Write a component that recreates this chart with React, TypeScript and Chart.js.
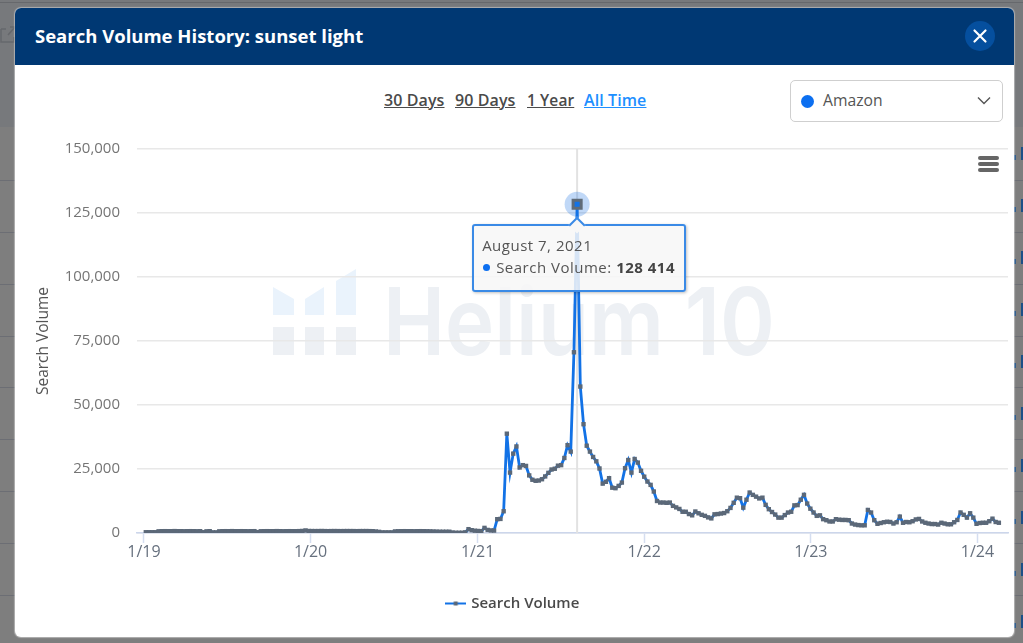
import React, { useEffect, useRef } from "react";
import { Chart, registerables } from "chart.js";

Chart.register(...registerables);

const title = "Search Volume History: sunset light";
const rangeLinks = ["30 Days", "90 Days", "1 Year", "All Time"];
const marketplace = "Amazon";
const seriesName = "Search Volume";

// Axis ticks: days since 1 Jan 2019
const yearTickDays = [0, 365, 731, 1096, 1461, 1826];
const yearTickLabels = ["1/19", "1/20", "1/21", "1/22", "1/23", "1/24"];
const firstWeekDay = 4; // weekly samples, Saturday 5 Jan 2019 onwards
const peakIndex = 135;

const volumes2019 = [
  300, 300, 300, 300, 650, 700, 720, 700, 700,
  750, 700, 700, 680, 700, 720, 700, 680, 700, 300,
  650, 700, 250, 250, 650, 700, 720, 700, 740, 700,
  700, 720, 700, 680, 700, 720, 350, 680, 700, 720,
  700, 700, 740, 700, 680, 700, 720, 700, 700, 740,
  800, 1000,
];
const volumes2020 = [
  780, 760, 750, 750, 780, 750, 720, 750, 760, 750,
  730, 750, 760, 750, 750, 720, 750, 750, 760, 730,
  700, 600, 450, 250, 250, 250, 250, 620, 680, 700,
  720, 700, 700, 680, 700, 720, 700, 680, 650, 600,
  550, 500, 500, 500, 500, 200, 100, 100, 100, 250,
  1500, 1100, 900,
];
const volumes2021 = [
  800, 700, 2000, 1200, 1000, 950, 5400, 5500, 8500, 38800,
  23600, 31000, 33800, 25600, 26500, 26200, 22500, 20800, 20400, 20500,
  21000, 22100, 23500, 24800, 25100, 26300, 26500, 29300, 34300, 31800,
  70600, 128414, 57200, 42500, 34100, 31800, 29700, 28000, 25200, 19300,
  20000, 21400, 17700, 17500, 18400, 19700, 25300, 28500, 23600, 28900,
  27500, 24300,
];
const volumes2022 = [
  22000, 20100, 18800, 16200, 12500, 11900, 11900, 11800, 11900, 10600,
  10000, 9400, 8300, 8300, 7400, 6900, 8400, 7700, 7100, 6700,
  6100, 5700, 7300, 7400, 7600, 7800, 8500, 9800, 11800, 13800,
  13600, 9900, 13000, 15800, 14900, 14200, 13500, 13800, 11000, 9300,
  8200, 7200, 6000, 6000, 7000, 8000, 8300, 10800, 10900, 13000,
  14900, 11500, 9500,
];
const volumes2023 = [
  8000, 6700, 6900, 5400, 5000, 4500, 4500, 5400, 5200, 5100,
  5100, 5000, 3700, 3300, 3100, 3000, 3000, 9000, 8000, 5000,
  3600, 3900, 4200, 4400, 4300, 3700, 4200, 6400, 4000, 4300,
  4200, 4600, 5300, 5500, 4500, 4000, 3700, 3500, 3500, 3300,
  4000, 3700, 3400, 3400, 4200, 5100, 8000, 7100, 6000, 7700,
  6000, 3600, 3900, 4000, 4000, 4600, 5600, 4300, 4000,
];
const volumes = [...volumes2019, ...volumes2020, ...volumes2021, ...volumes2022, ...volumes2023];
const weekDays = volumes.map((_, i) => firstWeekDay + i * 7);
const rowLines = [180, 232, 284, 336, 387, 439, 491, 543, 595];
const rowFragments = [153, 205, 257, 309, 361, 413, 465, 517, 569, 621];

const LINE = "#1272e6";
const MARK = "#5b6878";
const UI_FONT = '"Open Sans", sans-serif';

function dayLabel(day: number) {
  const d = new Date(Date.UTC(2019, 0, 1 + day));
  return d.toLocaleDateString("en-US", { month: "long", day: "numeric", year: "numeric", timeZone: "UTC" });
}

const focusPlugin = {
  id: "focusMarks",
  beforeDatasetsDraw(chart: any) {
    const active = chart.getActiveElements()[0];
    if (!active) return;
    const { ctx, chartArea } = chart;
    const el = active.element;
    ctx.save();
    ctx.strokeStyle = "#e2e2e2";
    ctx.lineWidth = 2;
    ctx.beginPath();
    ctx.moveTo(el.x, chartArea.top);
    ctx.lineTo(el.x, chartArea.bottom);
    ctx.stroke();
    ctx.fillStyle = "rgba(24,110,224,0.27)";
    ctx.beginPath();
    ctx.arc(el.x, el.y, 12.5, 0, Math.PI * 2);
    ctx.fill();
    ctx.restore();
  },
};

function legendMark() {
  const c = document.createElement("canvas");
  c.width = 21;
  c.height = 6;
  const g = c.getContext("2d")!;
  g.fillStyle = LINE;
  g.fillRect(0, 2, 21, 2);
  g.fillStyle = MARK;
  g.fillRect(8.5, 1, 4, 4);
  return c;
}

export default function App() {
  const canvasRef = useRef<HTMLCanvasElement>(null);
  const tipRef = useRef<HTMLDivElement>(null);

  useEffect(() => {
    const chart = new Chart(canvasRef.current!, {
      type: "line",
      data: {
        labels: weekDays,
        datasets: [
          {
            label: seriesName,
            data: weekDays.map((x, i) => ({ x, y: volumes[i] })),
            borderColor: LINE,
            borderWidth: 2.8,
            tension: 0,
            pointStyle: "rect",
            pointRadius: 3.1,
            pointBorderWidth: 0,
            pointBackgroundColor: MARK,
            pointHoverRadius: 5.7,
            pointHoverBorderWidth: 3,
            pointHoverBackgroundColor: LINE,
            pointHoverBorderColor: "#5f6b78",
          },
        ],
      },
      options: {
        animation: false,
        responsive: false,
        events: [],
        layout: { padding: { top: 84, right: 6, left: 4, bottom: 16 } },
        scales: {
          x: {
            type: "linear",
            min: -15.3,
            max: 1893,
            afterFit(s: any) {
              s.height = 53;
            },
            afterBuildTicks(s: any) {
              s.ticks = yearTickDays.map((value) => ({ value }));
            },
            grid: { drawOnChartArea: false, drawTicks: true, tickLength: 10, tickColor: "#d5def0", tickWidth: 1.5 },
            border: { color: "#ccd6eb", width: 1.5 },
            ticks: {
              autoSkip: false,
              maxRotation: 0,
              padding: 0,
              color: "#66707e",
              font: { family: UI_FONT, size: 16 },
              callback: (_v: any, i: number) => yearTickLabels[i],
            },
          },
          y: {
            min: 0,
            max: 150000,
            afterFit(s: any) {
              s.width = 118;
            },
            title: {
              display: true,
              text: seriesName,
              color: "#555",
              font: { family: UI_FONT, size: 15.5 },
              padding: { top: 15, bottom: 0 },
            },
            grid: { color: "#e8e8e8", lineWidth: 1.5, drawTicks: false },
            border: { display: false },
            ticks: {
              stepSize: 25000,
              padding: 17,
              color: "#757575",
              font: { family: UI_FONT, size: 15 },
              callback: (v: any) => Number(v).toLocaleString("en-US"),
            },
          },
        },
        plugins: {
          legend: {
            position: "bottom",
            labels: {
              usePointStyle: true,
              pointStyle: legendMark(),
              pointStyleWidth: 16,
              padding: 10,
              color: "#4a4a4a",
              font: { family: UI_FONT, size: 15, weight: "600" },
            },
          },
          tooltip: {
            enabled: false,
            external({ tooltip }: any) {
              const el = tipRef.current;
              if (!el || !tooltip.dataPoints?.length) return;
              const p = tooltip.dataPoints[0];
              el.style.display = "block";
              el.style.left = `${15 + tooltip.caretX - 105}px`;
              el.style.top = `${65 + tooltip.caretY + 20}px`;
              el.querySelector("[data-d]")!.textContent = dayLabel(p.parsed.x);
              el.querySelector("[data-n]")!.textContent = `${p.dataset.label}: `;
              el.querySelector("[data-v]")!.textContent = String(p.parsed.y).replace(/\B(?=(\d{3})+$)/g, " ");
            },
          },
        },
      } as any,
      plugins: [focusPlugin],
    } as any);

    const active = [{ datasetIndex: 0, index: peakIndex }];
    chart.setActiveElements(active);
    chart.tooltip!.setActiveElements(active, { x: 0, y: 0 });
    chart.update();
    return () => chart.destroy();
  }, []);

  const abs = (s: React.CSSProperties): React.CSSProperties => ({ position: "absolute", ...s });

  return (
    <div style={{ position: "fixed", left: 0, top: 0, width: 1023, height: 643, overflow: "hidden", background: "#7e7e7e", fontFamily: UI_FONT }}>
      <div style={abs({ left: 0, top: 0, width: 1023, height: 127, background: "#77797c" })} />
      <div style={abs({ left: 0, top: 2, width: 1023, height: 1, background: "#66686c" })} />
      {rowLines.map((y) => (
        <div key={y} style={abs({ left: 0, top: y, width: 1023, height: 1, background: "#6c6e74" })} />
      ))}
      {rowFragments.map((y) => (
        <React.Fragment key={y}>
          <div style={abs({ left: 1021, top: y - 6, width: 2, height: 13, background: "#1c4f87" })} />
          <div style={abs({ left: 1014, top: y + 2, width: 2, height: 5, background: "#2d5a8a" })} />
        </React.Fragment>
      ))}
      <svg style={abs({ left: 0, top: 24, width: 15, height: 20 })} viewBox="0 0 15 20">
        <path d="M1 5H6M1 5V18H14V13M8 11L15 3M10 3H15" fill="none" stroke="#66686c" strokeWidth="1.5" />
      </svg>

      {/* Modal */}
      <div style={abs({ left: 15, top: 8, width: 999, height: 629, background: "#fff", borderRadius: 6, overflow: "hidden", boxShadow: "0 0 1px 1px rgba(255,255,255,0.4)" })}>
        <div style={abs({ left: 0, top: 0, width: 999, height: 57, background: "#003873" })} />
      </div>
      <div style={abs({ left: 35, top: 23, color: "#fff", fontSize: 18.5, fontWeight: 700, lineHeight: "25px", whiteSpace: "nowrap" })}>{title}</div>
      <div style={abs({ left: 965, top: 21, width: 30, height: 30, borderRadius: 15, background: "#054f9e" })}>
        <svg width="30" height="30" viewBox="0 0 30 30">
          <path d="M9.5 9.5L20.5 20.5M20.5 9.5L9.5 20.5" stroke="#fff" strokeWidth="2.2" strokeLinecap="round" />
        </svg>
      </div>

      {/* Range links */}
      {rangeLinks.map((t, i) => (
        <div
          key={t}
          style={abs({
            left: [384, 455, 527, 584][i],
            top: 90,
            fontSize: i === 2 ? 15.5 : 16,
            lineHeight: "20px",
            fontWeight: 600,
            letterSpacing: 0.1,
            textDecoration: "underline",
            whiteSpace: "nowrap",
            color: i === 3 ? "#1e8fff" : "#4a4a4a",
          })}
        >
          {t}
        </div>
      ))}

      {/* Select */}
      <div style={abs({ left: 790, top: 80, width: 211, height: 40, border: "1px solid #cfcfcf", borderRadius: 5, background: "#fff" })} />
      <div style={abs({ left: 801, top: 95, width: 13, height: 13, borderRadius: 7, background: "#0c6ff0" })} />
      <div style={abs({ left: 823, top: 90, fontSize: 15.7, lineHeight: "20px", color: "#555" })}>{marketplace}</div>
      <svg style={abs({ left: 977, top: 96, width: 14, height: 10 })} viewBox="0 0 14 10">
        <path d="M1 1.5L7 7.5L13 1.5" fill="none" stroke="#555" strokeWidth="1.4" />
      </svg>

      {/* Watermark */}
      <svg style={abs({ left: 265, top: 262, width: 530, height: 100 })} viewBox="265 262 530 100">
        <g fill="#eaf3fc">
          <path d="M273 287L294 299V315H273Z" />
          <path d="M305 299L324 287V315H305Z" />
          <path d="M336 281L356 269V315H336Z" />
        </g>
        <g fill="#edf0f4">
          <rect x="273" y="327" width="21" height="28" />
          <rect x="305" y="327" width="19" height="28" />
          <rect x="336" y="327" width="20" height="28" />
        </g>
        <text x="383" y="355" textLength="392" lengthAdjust="spacingAndGlyphs" fontFamily="Inter, Roboto, sans-serif" fontSize="94" fontWeight="600" fill="#edf0f4">
          Helium 10
        </text>
      </svg>

      <canvas ref={canvasRef} width={999} height={572} style={abs({ left: 15, top: 65, width: 999, height: 572 })} />

      {/* Menu icon */}
      <div style={abs({ left: 978, top: 156, width: 21, height: 4, borderRadius: 2, background: "#666" })} />
      <div style={abs({ left: 978, top: 162, width: 21, height: 4, borderRadius: 2, background: "#666" })} />
      <div style={abs({ left: 978, top: 168, width: 21, height: 4, borderRadius: 2, background: "#666" })} />

      {/* Tooltip, filled from the chart's tooltip model */}
      <div
        ref={tipRef}
        style={abs({
          display: "none",
          width: 210,
          height: 64,
          boxSizing: "content-box",
          background: "rgba(247,247,247,0.86)",
          border: "2px solid #3a8ae6",
          borderRadius: 3,
          boxShadow: "1px 1px 3px rgba(0,0,0,0.25)",
          color: "#555",
          fontSize: 15,
          letterSpacing: 0.5,
          whiteSpace: "nowrap",
        })}
      >
        <div style={abs({ left: 97, top: -7, width: 10, height: 10, background: "#f7f7f7", borderLeft: "2px solid #3a8ae6", borderTop: "2px solid #3a8ae6", transform: "rotate(45deg)" })} />
        <div data-d="" style={abs({ left: 8, top: 9, lineHeight: "20px" })} />
        <div style={abs({ left: 9, top: 38, width: 7, height: 7, borderRadius: 4, background: "#0c6ff0" })} />
        <div style={abs({ left: 22, top: 31, lineHeight: "20px" })}>
          <span data-n="" />
          <b data-v="" style={{ fontWeight: 700, color: "#444" }} />
        </div>
      </div>
    </div>
  );
}
